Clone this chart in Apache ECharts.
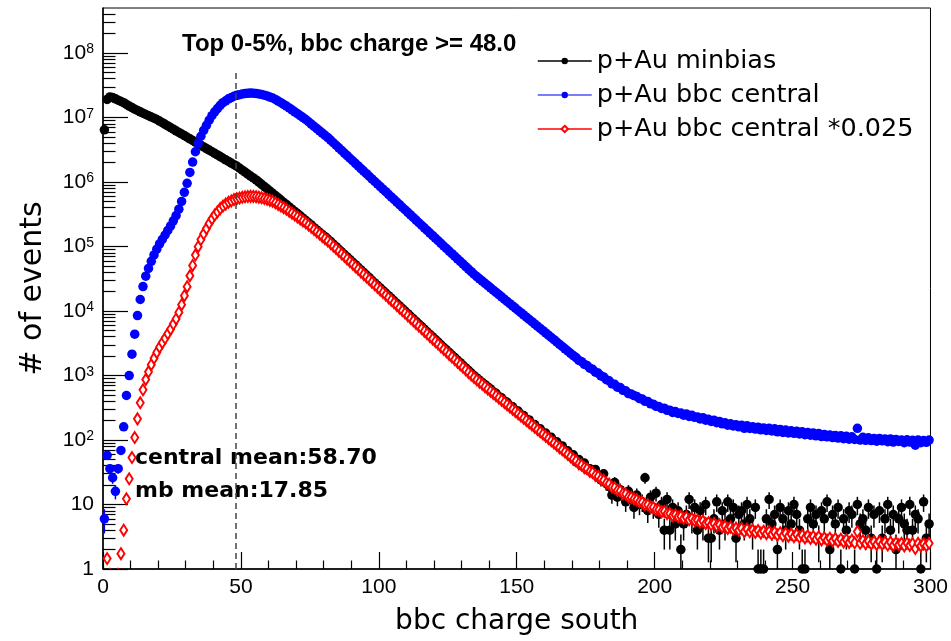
<!DOCTYPE html>
<html lang="en" style="height: 100%">
<head>
  <meta charset="utf-8">
  <title>bbc charge south</title>
</head>
<body style="height: 100%; margin: 0; background: #fff">
  <div id="container" style="width: 951px;height: 641px"></div>

  <script type="text/javascript" src="https://cdn.jsdelivr.net/npm/echarts@6/dist/echarts.min.js"></script>

  <script type="text/javascript">
    // bin i covers [i, i+1) in bbc charge
    const binWidth = 1;

    // p+Au minbias, events per bin
    const minbias = [
      6.46e6, 1.91e7, 2.09e7, 2.04e7, 1.95e7, 1.86e7, 1.78e7, 1.70e7, 1.60e7, 1.51e7,
      1.43e7, 1.35e7, 1.29e7, 1.23e7, 1.17e7, 1.12e7, 1.07e7, 1.02e7, 9.77e6, 9.33e6,
      8.81e6, 8.32e6, 7.85e6, 7.41e6, 7.00e6, 6.61e6, 6.24e6, 5.89e6, 5.56e6, 5.25e6,
      4.95e6, 4.68e6, 4.42e6, 4.17e6, 3.94e6, 3.72e6, 3.51e6, 3.31e6, 3.13e6, 2.95e6,
      2.79e6, 2.63e6, 2.48e6, 2.34e6, 2.21e6, 2.09e6, 1.97e6, 1.86e6, 1.76e6, 1.64e6,
      1.53e6, 1.43e6, 1.33e6, 1.24e6, 1.16e6, 1.08e6, 1.00e6, 9.23e5, 8.51e5, 7.85e5,
      7.24e5, 6.68e5, 6.17e5, 5.69e5, 5.25e5, 4.84e5, 4.47e5, 4.12e5, 3.80e5, 3.51e5,
      3.24e5, 2.99e5, 2.75e5, 2.54e5, 2.34e5, 2.16e5, 1.96e5, 1.81e5, 1.67e5, 1.54e5,
      1.42e5, 1.31e5, 1.20e5, 1.09e5, 9.95e4, 9.08e4, 8.28e4, 7.55e4, 6.89e4, 6.28e4,
      5.73e4, 5.23e4, 4.77e4, 4.34e4, 3.97e4, 3.62e4, 3.30e4, 3.00e4, 2.73e4, 2.50e4,
      22800, 20800, 19000, 17300, 15800, 14400, 13100, 12000, 10900, 9970,
      9090, 8280, 7560, 6890, 6270, 5740, 5230, 4770, 4340, 3970,
      3620, 3300, 3000, 2730, 2500, 2280, 2080, 1900, 1730, 1580,
      1440, 1310, 1200, 1090, 997, 919, 847, 783, 721, 665,
      620, 558, 530, 475, 451, 404, 384, 341, 328, 290,
      281, 247, 240, 209, 205, 176, 174, 150, 149, 127,
      128, 108, 110, 91, 94, 78, 81, 66, 68, 55,
      59, 46, 50, 40, 44, 35, 36, 31, 35, 27,
      24, 30, 21, 19, 14, 22, 13, 17, 15, 11,
      16, 12, 9, 14, 10, 11, 26, 8, 13, 9,
      15, 7, 10, 4, 12, 4, 9, 5, 8, 2,
      5, 7, 12, 6, 9, 4, 8, 5, 10, 3,
      3, 6, 11, 4, 8, 5, 11, 6, 9, 3,
      7, 8, 5, 10, 6, 4, 9, 1, 1, 1,
      6, 12, 5, 7, 2, 9, 6, 4, 8, 5,
      10, 7, 4, 1, 1, 6, 9, 5, 7, 3,
      8, 6, 11, 2, 7, 5, 9, 1, 6, 4,
      8, 7, 1, 10, 5, 6, 4, 9, 3, 7,
      1, 8, 3, 6, 10, 4, 7, 2, 6, 9,
      5, 4, 10, 4, 7, 6, 1, 11, 3, 5
    ];

    // p+Au bbc central trigger
    const central = [
      6, 58, 36, 26, 16, 36, 69, 160, 490, 1000,
      2140, 4370, 8510, 15100, 24000, 34700, 45700, 58900, 74100, 91200,
      110000, 129000, 151000, 178000, 209000, 251000, 302000, 380000, 501000, 692000,
      955000, 1.41e6, 2.04e6, 2.95e6, 3.98e6, 5.13e6, 6.31e6, 7.59e6, 9.12e6, 1.07e7,
      1.23e7, 1.38e7, 1.55e7, 1.70e7, 1.82e7, 1.95e7, 2.04e7, 2.14e7, 2.21e7, 2.26e7,
      2.32e7, 2.36e7, 2.38e7, 2.40e7, 2.39e7, 2.37e7, 2.33e7, 2.28e7, 2.22e7, 2.16e7,
      2.08e7, 2.01e7, 1.91e7, 1.80e7, 1.70e7, 1.60e7, 1.51e7, 1.41e7, 1.32e7, 1.23e7,
      1.15e7, 1.07e7, 1.00e7, 9.33e6, 8.61e6, 7.94e6, 7.33e6, 6.76e6, 6.24e6, 5.75e6,
      5.31e6, 4.90e6, 4.47e6, 4.07e6, 3.72e6, 3.39e6, 3.09e6, 2.82e6, 2.57e6, 2.34e6,
      2.14e6, 1.95e6, 1.78e6, 1.62e6, 1.48e6, 1.35e6, 1.23e6, 1.12e6, 1.02e6, 933000,
      851000, 776000, 708000, 646000, 589000, 537000, 490000, 447000, 407000, 372000,
      339000, 309000, 282000, 257000, 234000, 214000, 195000, 178000, 162000, 148000,
      135000, 123000, 112000, 102000, 93300, 85100, 77600, 70800, 64600, 58900,
      53700, 49000, 44700, 40700, 37200, 34300, 31600, 29200, 26900, 24800,
      22900, 21100, 19500, 18000, 16600, 15300, 14100, 13000, 12000, 11100,
      10200, 9440, 8710, 8040, 7410, 6840, 6310, 5820, 5370, 4950,
      4570, 4220, 3890, 3590, 3310, 3050, 2820, 2600, 2400, 2210,
      2040, 1900, 1720, 1640, 1490, 1430, 1300, 1250, 1130, 1090,
      990, 950, 860, 830, 745, 730, 660, 650, 590, 580,
      525, 515, 488, 474, 440, 432, 398, 396, 364, 360,
      333, 330, 309, 312, 289, 290, 268, 276, 258, 262,
      243, 254, 232, 242, 225, 228, 212, 222, 203, 209,
      194, 203, 186, 194, 178, 185, 170, 178, 165, 172,
      160, 170, 152, 166, 151, 161, 148, 158, 144, 154,
      141, 152, 138, 149, 134, 146, 131, 143, 129, 139,
      127, 137, 124, 134, 121, 131, 119, 128, 116, 126,
      113, 122, 112, 120, 109, 118, 107, 116, 105, 114,
      103, 112, 102, 152, 100, 110, 99, 108, 98, 106,
      96, 106, 97, 104, 94, 104, 93, 102, 95, 100,
      91, 101, 93, 99, 83, 100, 91, 98, 92, 100
    ];

    // scale factor written in the legend
    const centralScale = 0.025;
    const cutCharge = 48.0;
    const centralMean = '58.70';
    const mbMean = '17.85';

    const seriesNames = ['p+Au minbias', 'p+Au bbc central', 'p+Au bbc central *0.025'];
    const yMajorTicks = [1, 10, 100, 1e3, 1e4, 1e5, 1e6, 1e7, 1e8];
    const yMinorSteps = [2, 3, 4, 5, 6, 7, 8, 9];
    const yMax = 5e8;

    var yMinorTicks = [];
    yMajorTicks.forEach(function (d) {
      yMinorSteps.forEach(function (m) {
        if (d * m < yMax) yMinorTicks.push(d * m);
      });
    });

    function centre(i) { return (i + 0.5) * binWidth; }

    var mbPoints = minbias.map(function (v, i) { return [centre(i), v]; });
    var centralPoints = central.map(function (v, i) { return [centre(i), v]; });
    var scaledPoints = central.map(function (v, i) { return [centre(i), v * centralScale]; });

    // poisson error bars: [x, low, high], k rescales the raw counts
    function errBars(values, k) {
      return values.map(function (v, i) {
        var e = Math.sqrt(v) * k;
        return [centre(i), Math.max(v * k - e, 0.3), v * k + e];
      });
    }

    function errSeries(data, color) {
      return {
        type: 'custom',
        data: data,
        clip: true,
        silent: true,
        encode: { x: 0, y: [1, 2] },
        renderItem: function (params, api) {
          var a = api.coord([api.value(0), api.value(1)]);
          var b = api.coord([api.value(0), api.value(2)]);
          return {
            type: 'line',
            shape: { x1: a[0], y1: a[1], x2: b[0], y2: b[1] },
            style: { stroke: color, lineWidth: 1.5 }
          };
        }
      };
    }

    var dom = document.getElementById('container');
    var myChart = echarts.init(dom, null, { renderer: 'canvas' });

    var option = {
      animation: false,
      backgroundColor: '#fff',
      grid: {
        left: 103, right: 14, top: 8, bottom: 70,
        show: true, borderColor: '#000', borderWidth: 1
      },
      legend: {
        data: seriesNames,
        orient: 'vertical',
        left: 532,
        top: 43,
        itemWidth: 54,
        itemHeight: 8,
        itemGap: 8,
        selectedMode: false,
        lineStyle: { opacity: 1, width: 1.5 },
        textStyle: { fontFamily: 'DejaVu Sans', fontSize: 25.5, color: '#000' }
      },
      graphic: [
        {
          type: 'text', left: 182, top: 32, silent: true,
          style: { text: 'Top 0-5%, bbc charge >= ' + cutCharge.toFixed(1), font: 'bold 24px "Liberation Sans"', fill: '#000' }
        },
        {
          type: 'text', left: 135, top: 447, silent: true,
          style: { text: 'central mean:' + centralMean, font: 'bold 22px "DejaVu Sans"', fill: '#000' }
        },
        {
          type: 'text', left: 135, top: 480, silent: true,
          style: { text: 'mb mean:' + mbMean, font: 'bold 22px "DejaVu Sans"', fill: '#000' }
        }
      ],
      xAxis: {
        type: 'value',
        min: 0,
        max: 300,
        interval: 50,
        name: 'bbc charge south',
        nameLocation: 'middle',
        nameGap: 39,
        nameTextStyle: { fontFamily: 'DejaVu Sans', fontSize: 28, color: '#000' },
        axisLine: { lineStyle: { color: '#000', width: 1.5 } },
        axisTick: { inside: true, length: 17, lineStyle: { color: '#000', width: 1.2 } },
        minorTick: { show: true, splitNumber: 5, length: 8.5, lineStyle: { color: '#000', width: 1.2 } },
        axisLabel: { fontFamily: 'Liberation Sans', fontSize: 21, color: '#000', margin: 8 },
        splitLine: { show: false }
      },
      yAxis: [
        {
          type: 'log',
          logBase: 10,
          min: 1,
          max: yMax,
          name: '# of events',
          nameLocation: 'middle',
          nameGap: 55,
          nameTextStyle: { fontFamily: 'DejaVu Sans', fontSize: 30, color: '#000' },
          axisLine: { show: true, lineStyle: { color: '#000', width: 1.5 } },
          axisTick: { inside: true, length: 25, customValues: yMajorTicks, lineStyle: { color: '#000', width: 1.2 } },
          axisLabel: {
            customValues: yMajorTicks,
            fontFamily: 'Liberation Sans',
            fontSize: 21,
            color: '#000',
            margin: 9,
            formatter: function (v) {
              var e = Math.round(Math.log10(v));
              if (e === 0) return '1';
              if (e === 1) return '10';
              return '10{sup|' + e + '}';
            },
            rich: {
              sup: { fontFamily: 'Liberation Sans', fontSize: 14, color: '#000', verticalAlign: 'top', lineHeight: 14 }
            }
          },
          splitLine: { show: false }
        },
        {
          type: 'log',
          logBase: 10,
          min: 1,
          max: yMax,
          position: 'left',
          axisLine: { show: false },
          axisLabel: { show: false },
          axisTick: { inside: true, length: 12.5, customValues: yMinorTicks, lineStyle: { color: '#000', width: 1.2 } },
          splitLine: { show: false }
        }
      ],
      series: [
        errSeries(errBars(minbias, 1), '#000'),
        {
          name: seriesNames[0],
          type: 'line',
          data: mbPoints,
          showSymbol: true,
          showAllSymbol: true,
          symbol: 'circle',
          symbolSize: 9.5,
          itemStyle: { color: '#000', borderWidth: 0 },
          lineStyle: { color: '#000', opacity: 0 },
          emphasis: { disabled: true },
          silent: true,
          markLine: {
            silent: true,
            symbol: 'none',
            label: { show: false },
            lineStyle: { color: '#444', width: 1.5, type: [6, 4] },
            data: [[{ coord: [cutCharge, 1] }, { coord: [cutCharge, 5.4e7] }]]
          }
        },
        errSeries(errBars(central, 1), '#0000ff'),
        {
          name: seriesNames[1],
          type: 'line',
          data: centralPoints,
          showSymbol: true,
          showAllSymbol: true,
          symbol: 'circle',
          symbolSize: 9.5,
          itemStyle: { color: '#0000ff', borderWidth: 0 },
          lineStyle: { color: '#5050ff', opacity: 0 },
          emphasis: { disabled: true },
          silent: true
        },
        errSeries(errBars(central, centralScale), '#ff0000'),
        {
          name: seriesNames[2],
          type: 'line',
          data: scaledPoints,
          showSymbol: true,
          showAllSymbol: true,
          symbol: 'emptyDiamond',
          symbolSize: [7, 11],
          itemStyle: { color: '#ff0000', borderWidth: 1.5 },
          lineStyle: { color: '#ff0000', opacity: 0 },
          emphasis: { disabled: true },
          silent: true
        }
      ]
    };

    myChart.setOption(option);
    window.addEventListener('resize', myChart.resize);
  </script>
</body>
</html>
